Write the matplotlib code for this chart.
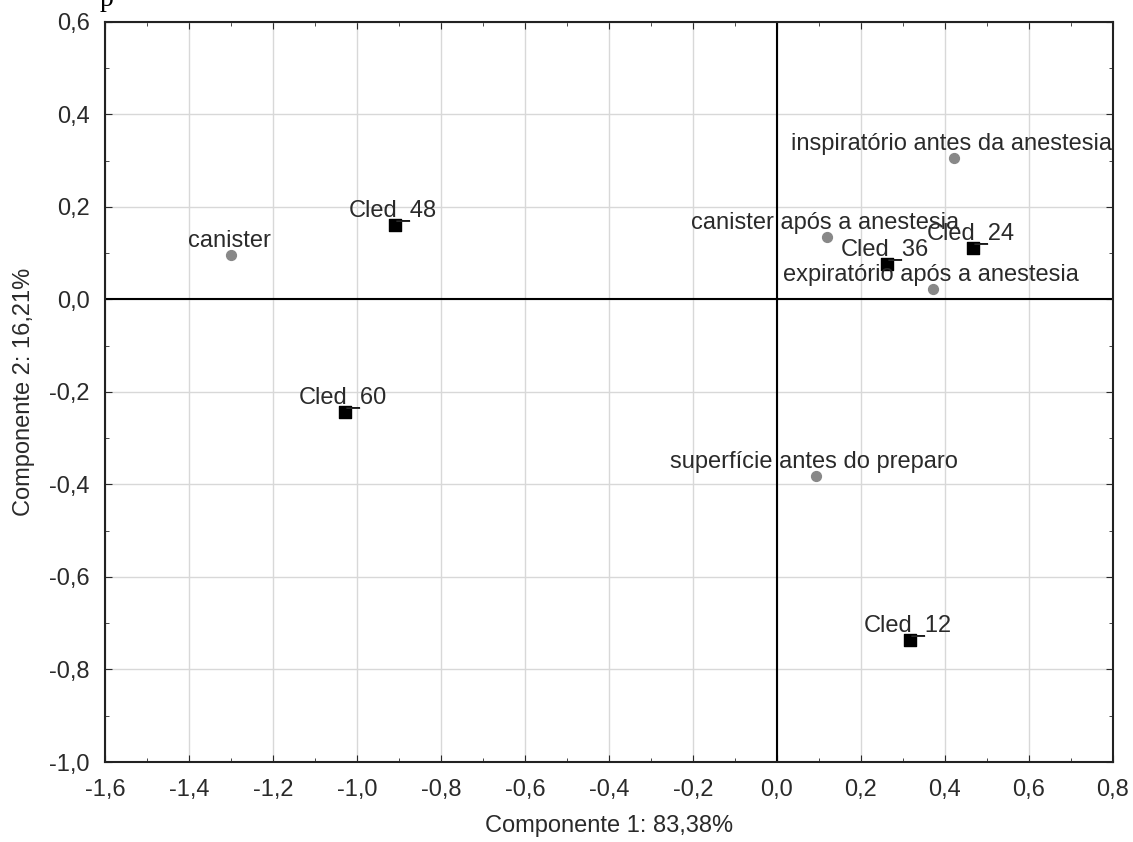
import matplotlib.pyplot as plt
from matplotlib.path import Path
from matplotlib.ticker import MultipleLocator, FuncFormatter

plt.rcParams['font.family'] = ['Liberation Sans', 'DejaVu Sans']

# variaveis (circulos cinza)
var_names = ['canister', 'inspiratório antes da anestesia', 'canister após a anestesia',
             'expiratório após a anestesia', 'superfície antes do preparo']
var_x = [-1.30, 0.421, 0.119, 0.371, 0.093]
var_y = [0.096, 0.306, 0.135, 0.023, -0.382]

# casos (quadrados pretos)
case_names = ['Cled_48', 'Cled_60', 'Cled_24', 'Cled_36', 'Cled_12']
case_x = [-0.91, -1.029, 0.467, 0.262, 0.317]
case_y = [0.161, -0.243, 0.111, 0.077, -0.736]

FS = 17
TXT = '#2a2a2a'

f = plt.figure(figsize=(11.33, 8.42), dpi=100)
ax = f.add_axes([0.0927, 0.095, 0.8896, 0.879])

ax.set_xlim(-1.6, 0.8)
ax.set_ylim(-1.0, 0.6)
ax.xaxis.set_major_locator(MultipleLocator(0.2))
ax.yaxis.set_major_locator(MultipleLocator(0.2))
ax.xaxis.set_minor_locator(MultipleLocator(0.1))
ax.yaxis.set_minor_locator(MultipleLocator(0.1))
fmt = FuncFormatter(lambda v, p: ('%.1f' % v).replace('.', ',').replace('-0,0', '0,0'))
ax.xaxis.set_major_formatter(fmt)
ax.yaxis.set_major_formatter(fmt)
ax.grid(True, which='major', color='#d8d8d8', lw=1)
ax.set_axisbelow(True)
ax.tick_params(which='both', direction='in', top=True, right=True, colors=TXT,
               labelsize=FS)
ax.tick_params(which='major', length=5)
ax.tick_params(which='minor', length=3)
ax.tick_params(axis='x', pad=12.5)
ax.tick_params(axis='y', pad=11)
for s in ax.spines.values():
    s.set_linewidth(1.5)
    s.set_color('#222222')

ax.axhline(0, color='black', lw=1.5)
ax.axvline(0, color='black', lw=1.5)

# traco do rotulo a direita do quadrado
leader = Path([(0, 0.27), (1, 0.27)], [Path.MOVETO, Path.LINETO])
ax.plot(case_x, case_y, ls='none', marker=leader, ms=21.6, mfc='none',
        mec='black', mew=1.4, zorder=3)

ax.scatter(var_x, var_y, s=50, color='#888888', zorder=3)
ax.scatter(case_x, case_y, s=80, marker='s', color='black', zorder=3)

for n, x, y in zip(var_names + case_names, var_x + case_x, var_y + case_y):
    ax.annotate(n, (x, y), xytext=(-2, 8), textcoords='offset pixels', ha='center',
                va='baseline', fontsize=FS, color=TXT, zorder=4)

ax.set_xlabel('Componente 1: 83,38%', fontsize=FS, color=TXT)
ax.set_ylabel('Componente 2: 16,21%', fontsize=FS, color=TXT)
ax.xaxis.set_label_coords(0.5, -0.0716)
ax.yaxis.set_label_coords(-0.069, 0.5)

f.text(0.088, 1.0, 'p', family='Liberation Serif', fontsize=20, va='center')

plt.savefig('out.png', dpi=100)
